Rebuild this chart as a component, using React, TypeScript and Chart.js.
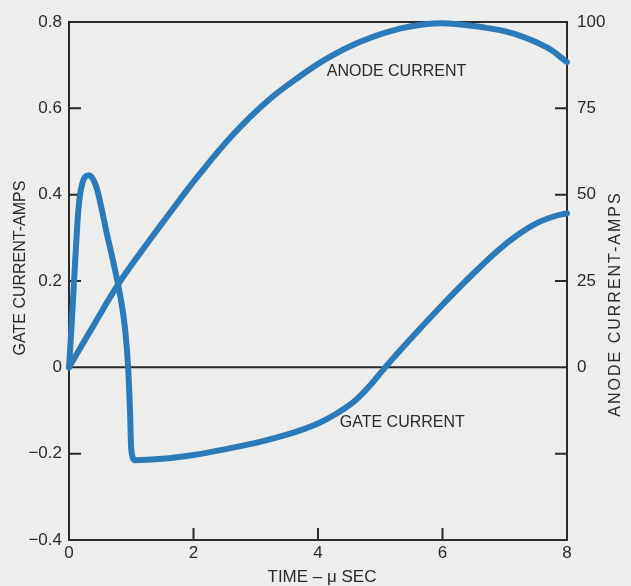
import React, { useEffect, useRef } from 'react';
import { Chart, registerables } from 'chart.js';

Chart.register(...registerables);

// ---- Data ----
// Gate current (amps) vs time (µs), left axis
const GATE_TIME = [0, 0.04, 0.1, 0.15, 0.2, 0.32, 0.44, 0.52, 0.6, 0.71, 0.82, 0.9, 0.95, 0.98, 1.0, 1.06, 1.5, 2.0, 2.5, 3.0, 3.5, 4.0, 4.3, 4.6, 4.85, 5.08, 5.5, 6.0, 6.5, 6.9, 7.2, 7.5, 7.8, 8];
const GATE_AMPS = [0, 0.093, 0.248, 0.364, 0.418, 0.445, 0.418, 0.37, 0.315, 0.245, 0.168, 0.09, 0, -0.1, -0.19, -0.215, -0.212, -0.203, -0.19, -0.175, -0.156, -0.13, -0.107, -0.077, -0.04, 0, 0.068, 0.145, 0.218, 0.272, 0.306, 0.333, 0.35, 0.357];

// Anode current (amps) vs time (µs), right axis
const ANODE_TIME = [0, 0.4, 0.79, 1.2, 1.57, 2.1, 2.64, 3.18, 3.71, 4.14, 4.67, 5.21, 5.75, 6.1, 6.6, 7.13, 7.67, 8];
const ANODE_AMPS = [0, 12.3, 24, 34.5, 43.5, 56, 67.5, 77, 84.3, 89.4, 94.2, 97.6, 99.4, 99.6, 98.6, 96.7, 92.7, 88.4];

// Axes
const TIME_MIN = 0, TIME_MAX = 8, TIME_STEP = 2;
const GATE_MIN = -0.4, GATE_MAX = 0.8, GATE_STEP = 0.2;
const ANODE_MIN = -50, ANODE_MAX = 100, ANODE_STEP = 25;
const TIME_TICK_MARKS = [2, 4, 6];
const GATE_TICK_MARKS = [-0.2, 0.2, 0.4, 0.6];
const ANODE_TICK_MARKS = [-25, 25, 50, 75];

// Text
const X_TITLE = 'TIME – μ SEC';
const LEFT_TITLE = 'GATE CURRENT-AMPS';
const RIGHT_TITLE = 'ANODE CURRENT-AMPS';
const CURVE_LABELS = ['ANODE CURRENT', 'GATE CURRENT'];
const CURVE_LABEL_TIME = [4.14, 4.35];
const CURVE_LABEL_GATE = [0.686, -0.127];

const INK = '#2a2a2a';
const BLUE = '#2b7bba';
const PAPER = '#edeeec';
const FONT = "'Liberation Sans', Arial, sans-serif";

const fmtGate = (v: number) => {
  const r = Math.round(v * 10) / 10;
  if (r === 0) return '0';
  return (r < 0 ? '−' : '') + Math.abs(r).toFixed(1);
};

const decorPlugin = {
  id: 'decor',
  beforeDraw(chart: any) {
    const { ctx, width, height } = chart;
    ctx.save();
    ctx.fillStyle = PAPER;
    ctx.fillRect(0, 0, width, height);
    ctx.restore();
  },
  beforeDatasetsDraw(chart: any) {
    const { ctx, chartArea, scales } = chart;
    const { left, right, top, bottom } = chartArea;
    const TL = 12;
    ctx.save();
    ctx.strokeStyle = INK;
    ctx.lineWidth = 2;
    ctx.lineCap = 'butt';
    ctx.beginPath();
    ctx.rect(left, top, right - left, bottom - top);
    const y0 = scales.y.getPixelForValue(0);
    ctx.moveTo(left, y0);
    ctx.lineTo(right, y0);
    GATE_TICK_MARKS.forEach((v) => {
      const y = scales.y.getPixelForValue(v);
      ctx.moveTo(left, y);
      ctx.lineTo(left + TL, y);
    });
    ANODE_TICK_MARKS.forEach((v) => {
      const y = scales.y2.getPixelForValue(v);
      ctx.moveTo(right, y);
      ctx.lineTo(right - TL, y);
    });
    TIME_TICK_MARKS.forEach((v) => {
      const x = scales.x.getPixelForValue(v);
      ctx.moveTo(x, bottom);
      ctx.lineTo(x, bottom - TL);
    });
    ctx.stroke();

    // curve labels
    ctx.fillStyle = INK;
    ctx.font = `16px ${FONT}`;
    ctx.textAlign = 'left';
    ctx.textBaseline = 'middle';
    CURVE_LABELS.forEach((t, i) => {
      ctx.fillText(t, scales.x.getPixelForValue(CURVE_LABEL_TIME[i]), scales.y.getPixelForValue(CURVE_LABEL_GATE[i]));
    });

    // axis titles
    ctx.textAlign = 'center';
    ctx.font = `17px ${FONT}`;
    ctx.fillText(X_TITLE, (left + right) / 2 + 4, bottom + 37);

    ctx.font = `16px ${FONT}`;
    ctx.save();
    ctx.translate(left - 48, (top + bottom) / 2 - 13);
    ctx.rotate(-Math.PI / 2);
    ctx.fillText(LEFT_TITLE, 0, 0);
    ctx.restore();

    ctx.save();
    ctx.translate(right + 49, (top + bottom) / 2 + 23);
    ctx.rotate(-Math.PI / 2);
    (ctx as any).letterSpacing = '2px';
    ctx.fillText(RIGHT_TITLE, 0, 0);
    ctx.restore();

    ctx.restore();
  },
};

export default function App() {
  const ref = useRef<HTMLCanvasElement | null>(null);

  useEffect(() => {
    if (!ref.current) return;
    const tickFont = { family: FONT, size: 17 };
    const chart = new Chart(ref.current, {
      type: 'scatter',
      data: {
        datasets: [
          {
            label: 'Anode current',
            data: ANODE_TIME.map((t, i) => ({ x: t, y: ANODE_AMPS[i] })),
            yAxisID: 'y2',
            showLine: true,
            borderColor: BLUE,
            borderWidth: 6,
            pointRadius: 0,
            tension: 0.4,
            borderCapStyle: 'round',
            borderJoinStyle: 'round',
            clip: 8,
          } as any,
          {
            label: 'Gate current',
            data: GATE_TIME.map((t, i) => ({ x: t, y: GATE_AMPS[i] })),
            yAxisID: 'y',
            showLine: true,
            borderColor: BLUE,
            borderWidth: 6,
            pointRadius: 0,
            cubicInterpolationMode: 'monotone',
            borderCapStyle: 'round',
            borderJoinStyle: 'round',
            clip: 8,
          } as any,
        ],
      },
      options: {
        responsive: false,
        animation: false,
        events: [],
        layout: { padding: { top: 22, left: 0, right: 0, bottom: 0 } },
        plugins: { legend: { display: false }, tooltip: { enabled: false } },
        scales: {
          x: {
            type: 'linear',
            position: 'bottom',
            min: TIME_MIN,
            max: TIME_MAX,
            ticks: { stepSize: TIME_STEP, color: INK, font: tickFont, padding: 3, maxRotation: 0 },
            grid: { display: false, drawTicks: false },
            border: { display: false },
            afterFit: (s: any) => { s.height = 46; },
          },
          y: {
            type: 'linear',
            position: 'left',
            min: GATE_MIN,
            max: GATE_MAX,
            ticks: { stepSize: GATE_STEP, color: INK, font: tickFont, padding: 7, callback: (v: any) => fmtGate(Number(v)) },
            grid: { display: false, drawTicks: false },
            border: { display: false },
            afterFit: (s: any) => { s.width = 69; },
          },
          y2: {
            type: 'linear',
            position: 'right',
            min: ANODE_MIN,
            max: ANODE_MAX,
            ticks: { stepSize: ANODE_STEP, color: INK, font: tickFont, padding: 10, callback: (v: any) => (Number(v) < 0 ? '' : String(v)) },
            grid: { display: false, drawTicks: false },
            border: { display: false },
            afterFit: (s: any) => { s.width = 64; },
          },
        },
      } as any,
      plugins: [decorPlugin],
    });
    return () => chart.destroy();
  }, []);

  return (
    <div style={{ position: 'fixed', left: 0, top: 0, width: 631, height: 586, background: PAPER }}>
      <canvas ref={ref} width={631} height={586} style={{ display: 'block' }} />
    </div>
  );
}
